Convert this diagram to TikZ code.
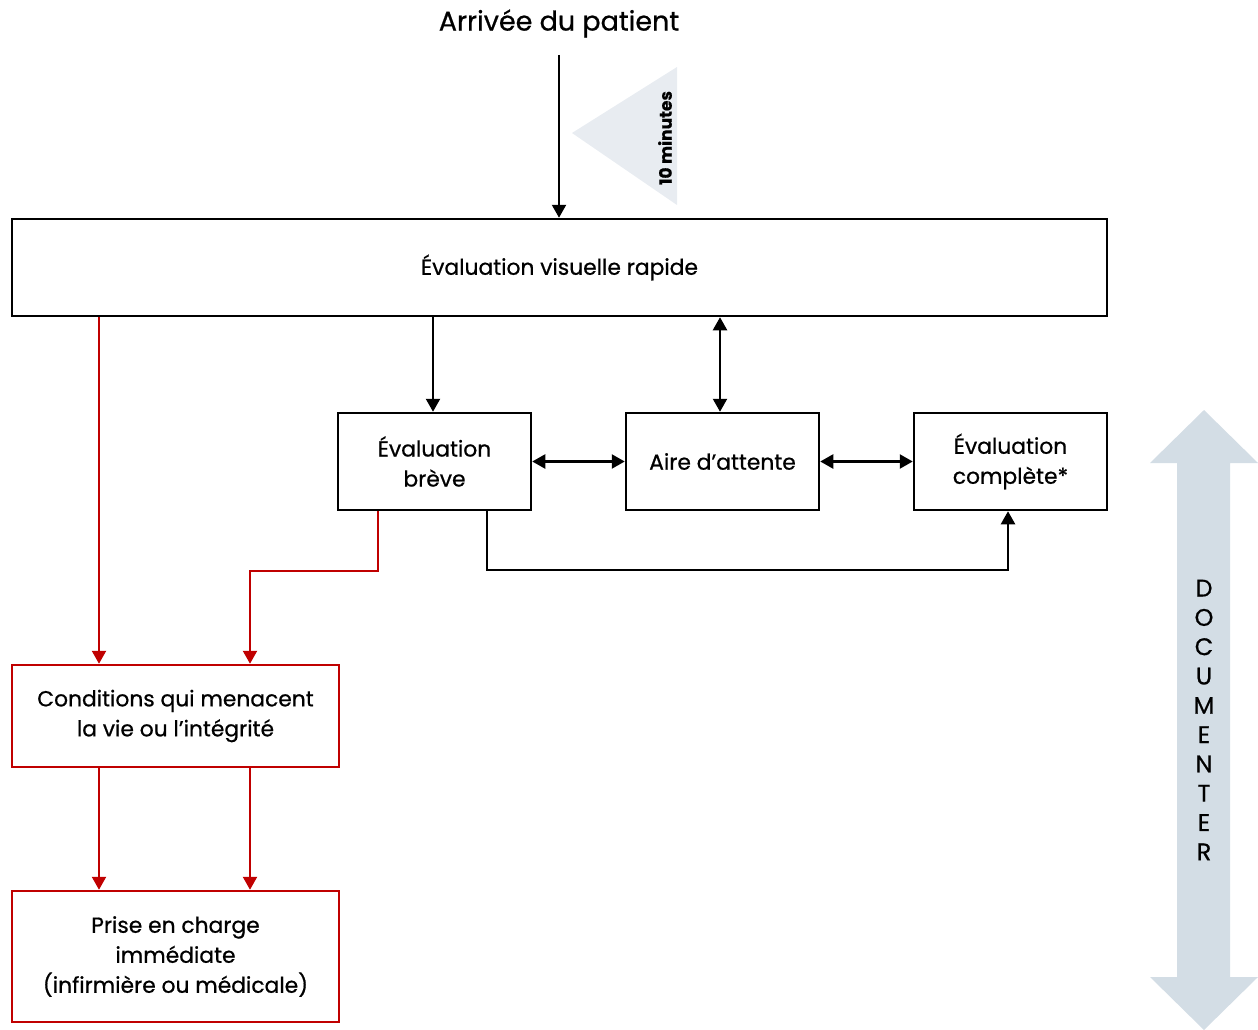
\documentclass[tikz,border=0pt]{standalone}
\usepackage{fontspec}
\setmainfont{Poppins}[FakeBold=0.7]
\usetikzlibrary{arrows.meta,positioning}
\definecolor{redc}{HTML}{C00000}
\definecolor{tri}{HTML}{E8ECF1}
\definecolor{docc}{HTML}{D3DDE5}
\tikzset{
  box/.style={draw, line width=2.5pt, inner sep=0pt, font=\fontsize{21.8}{30}\selectfont, align=center},
  redbox/.style={box, draw=redc},
  conn/.style={line width=2.3pt, -{Triangle[length=13pt,width=14pt]}},
  dconn/.style={line width=2.3pt, {Triangle[length=13pt,width=14pt]}-{Triangle[length=13pt,width=14pt]}},
  redconn/.style={conn, draw=redc},
}
\begin{document}
\begin{tikzpicture}[x=1pt,y=-1pt]
\useasboundingbox (0,0) rectangle (1258,1030);
% triangle
\fill[tri] (572,133) -- (677,67) -- (677,205) -- cycle;
\node[rotate=90, font=\bfseries\fontsize{17}{20}\selectfont] (tmin) at (665,138) {10 minutes};
% title
\node[font=\fontsize{27}{30}\selectfont] (title) at (559,23.5) {Arrivée du patient};
\coordinate (tstart) at (559,55);
% boxes
\node[box, minimum width=1095pt, minimum height=97pt] (eval) at (559.5,267.5) {Évaluation visuelle rapide};
\node[box, minimum width=193pt, minimum height=97pt] (breve) at (434.5,461.5) {Évaluation\\brève};
\node[box, minimum width=193pt, minimum height=97pt] (aire) at (722.5,461.5) {Aire d’attente};
\node[box, minimum width=193pt, minimum height=97pt] (comp) at (1010.5,461.5) {Évaluation\\complète*};
\node[redbox, minimum width=327pt, minimum height=102pt] (cond) at (175.5,716) {Conditions qui menacent\\la vie ou l’intégrité};
\node[redbox, minimum width=327pt, minimum height=131pt] (prise) at (175.5,956.5) {Prise en charge\\immédiate\\(infirmière ou médicale)};
% black connectors
\draw[conn] (tstart) -- (eval.north -| tstart);
\draw[conn] (eval.south -| 433,0) -- (breve.north -| 433,0);
\draw[dconn] (eval.south -| 720,0) -- (aire.north -| 720,0);
\draw[dconn] (breve.east) -- (aire.west);
\draw[dconn] (aire.east) -- (comp.west);
\draw[conn] (breve.south -| 487,0) -- (487,570) -- (1008,570) -- (comp.south -| 1008,0);
% red connectors
\draw[redconn] (eval.south -| 99,0) -- (cond.north -| 99,0);
\draw[redconn] (breve.south -| 378,0) -- (378,571) -- (250,571) -- (cond.north -| 250,0);
\draw[redconn] (cond.south -| 99,0) -- (prise.north -| 99,0);
\draw[redconn] (cond.south -| 250,0) -- (prise.north -| 250,0);
% documenter arrow
\fill[docc] (1204,410) -- (1258,463) -- (1230,463) -- (1230,977) -- (1258,977) -- (1204,1030) -- (1150,977) -- (1177,977) -- (1177,463) -- (1150,463) -- cycle;
\node[font=\fontsize{24}{29.3}\selectfont, align=center, inner sep=0pt] (doc) at (1204,720) {D\\O\\C\\U\\M\\E\\N\\T\\E\\R};
\end{tikzpicture}
\end{document}
